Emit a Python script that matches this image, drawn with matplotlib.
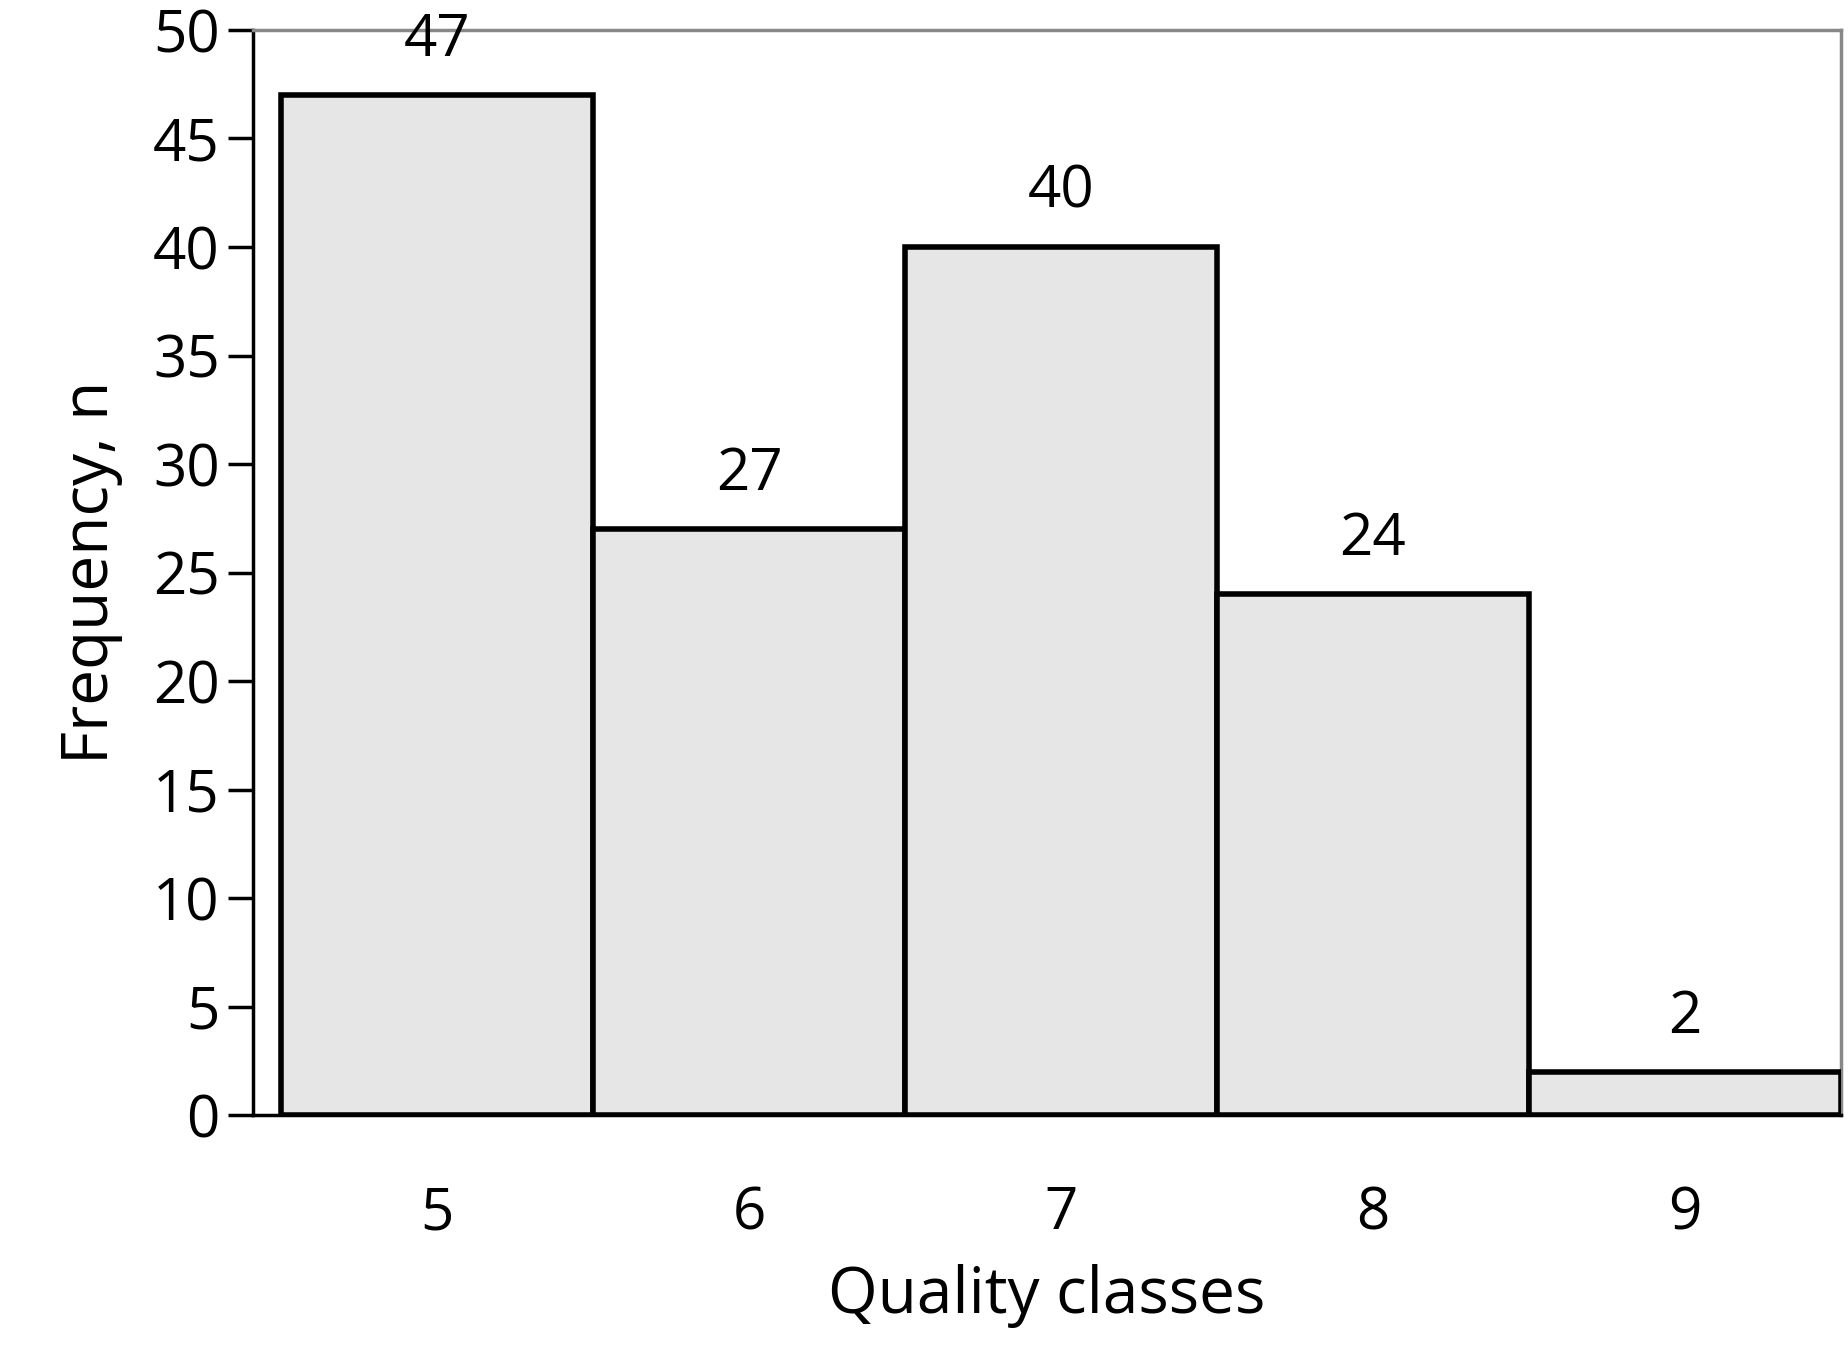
import matplotlib
matplotlib.use("Agg")
import matplotlib.pyplot as plt

categories = [5, 6, 7, 8, 9]
values = [47, 27, 40, 24, 2]

plt.rcParams['font.family'] = ['Open Sans', 'DejaVu Sans']
fig = plt.figure(figsize=(18.48, 13.6), dpi=100)
ax = fig.add_axes([0.137, 0.18, 0.859, 0.798])
ax.bar(categories, values, width=1.0, color='#e6e6e6', edgecolor='black', linewidth=4, zorder=3)
for c, v in zip(categories, values):
    ax.annotate(str(v), (c, v), xytext=(0, 18), textcoords='offset points',
                ha='center', va='bottom', fontsize=42)
ax.set_xlim(4.41, 9.5)
ax.set_ylim(0, 50)
ax.set_yticks(range(0, 51, 5))
ax.set_xticks(categories)
ax.tick_params(axis='y', labelsize=42, length=18, width=2.5, direction='out', pad=6)
ax.tick_params(axis='x', labelsize=42, length=0, pad=50)
for s in ['top', 'right']:
    ax.spines[s].set_color('#888888')
    ax.spines[s].set_linewidth(2.5)
for s in ['left', 'bottom']:
    ax.spines[s].set_color('black')
    ax.spines[s].set_linewidth(2.5)
ax.set_xlabel('Quality classes', fontsize=46, labelpad=15)
ax.set_ylabel('Frequency, n', fontsize=46, labelpad=22)
fig.savefig('out.png', dpi=100)
